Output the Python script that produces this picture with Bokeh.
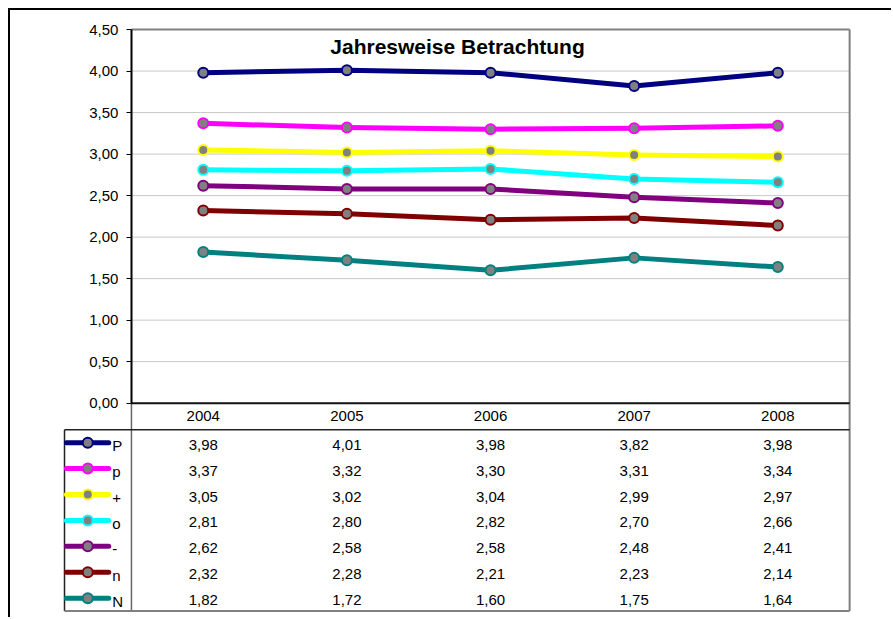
from bokeh.plotting import figure
from bokeh.models import Range1d, LinearAxis, FixedTicker, CustomJSTickFormatter, Label
from bokeh.core.properties import value
from bokeh.embed import file_html
from bokeh.resources import INLINE

# ---------------- data ----------------
years = ["2004", "2005", "2006", "2007", "2008"]
series_names = ["P", "p", "+", "o", "-", "n", "N"]
series_colors = ["#000080", "#FF00FF", "#FFFF00", "#00FFFF", "#800080", "#800000", "#008080"]
vals_P = [3.98, 4.01, 3.98, 3.82, 3.98]
vals_p = [3.37, 3.32, 3.30, 3.31, 3.34]
vals_plus = [3.05, 3.02, 3.04, 2.99, 2.97]
vals_o = [2.81, 2.80, 2.82, 2.70, 2.66]
vals_minus = [2.62, 2.58, 2.58, 2.48, 2.41]
vals_n = [2.32, 2.28, 2.21, 2.23, 2.14]
vals_N = [1.82, 1.72, 1.60, 1.75, 1.64]
series_values = [vals_P, vals_p, vals_plus, vals_o, vals_minus, vals_n, vals_N]
y_ticks = [0.0, 0.5, 1.0, 1.5, 2.0, 2.5, 3.0, 3.5, 4.0, 4.5]
title_text = "Jahresweise Betrachtung"

# ---------------- layout constants ----------------
X_START, X_END = -0.48, 5.02
Y_START, Y_END = -2.557, 4.669
HEADER_H = 0.32
ROW_H = 0.312
TABLE_LEFT = -0.466
LEG_X0, LEG_X1, LEG_MARK, LEG_TEXT = -0.453, -0.158, -0.304, -0.134
FONT = value("Liberation Sans")

ncol = len(years)
xs = [i + 0.5 for i in range(ncol)]
y_max = y_ticks[-1]
table_bottom = -HEADER_H - ROW_H * len(series_names)

p = figure(width=883, height=609, output_backend="svg", toolbar_location=None,
           x_range=Range1d(X_START, X_END), y_range=Range1d(Y_START, Y_END),
           x_axis_type=None, y_axis_type=None,
           min_border_left=52, min_border_right=41, min_border_top=5, min_border_bottom=4)
p.outline_line_color = None
p.background_fill_color = "white"
p.border_fill_color = "white"
p.styles = {"margin-left": "8px", "margin-top": "8px",
            "border-left": "2px solid #000", "border-top": "2px solid #000"}

# y axis at x = 0
yaxis = LinearAxis(fixed_location=0, bounds=(0, y_max),
                   ticker=FixedTicker(ticks=y_ticks),
                   formatter=CustomJSTickFormatter(code="return tick.toFixed(2).replace('.', ',');"))
yaxis.axis_line_color = "black"
yaxis.axis_line_width = 2
yaxis.major_tick_line_color = "black"
yaxis.major_tick_out = 5
yaxis.major_tick_in = 0
yaxis.minor_tick_line_color = None
yaxis.major_label_standoff = 8
yaxis.major_label_text_font = "Liberation Sans"
yaxis.major_label_text_font_size = "15px"
yaxis.major_label_text_color = "black"
p.add_layout(yaxis, "left")

# grid lines
grid_ys = y_ticks[1:-1]
p.segment(x0=[0] * len(grid_ys), y0=grid_ys, x1=[ncol] * len(grid_ys), y1=grid_ys,
          line_color="#C8C8C8", line_width=1)

# plot area frame (top, right)
p.segment(x0=[0], y0=[y_max], x1=[ncol], y1=[y_max], line_color="#808080", line_width=2)
p.segment(x0=[ncol], y0=[y_max], x1=[ncol], y1=[table_bottom], line_color="#808080", line_width=2)

# table lines
p.segment(x0=[0], y0=[0], x1=[0], y1=[table_bottom], line_color="#666666", line_width=1.5)
p.segment(x0=[TABLE_LEFT], y0=[-HEADER_H], x1=[ncol], y1=[-HEADER_H], line_color="#222222", line_width=1.5)
p.segment(x0=[TABLE_LEFT], y0=[-HEADER_H], x1=[TABLE_LEFT], y1=[table_bottom], line_color="#222222", line_width=1.5)
p.segment(x0=[TABLE_LEFT], y0=[table_bottom], x1=[ncol], y1=[table_bottom], line_color="#808080", line_width=2)
# category axis line
p.segment(x0=[0], y0=[0], x1=[ncol], y1=[0], line_color="#111111", line_width=2)

# series
for name, color, vals in zip(series_names, series_colors, series_values):
    p.line(xs, vals, line_color=color, line_width=5, line_join="round")
    p.scatter(xs, vals, size=10, fill_color="#808080", line_color=color, line_width=2)

# header row
p.text(x=xs, y=[-HEADER_H / 2] * ncol, text=years, text_align="center", text_baseline="middle",
       text_font=FONT, text_font_size="15px", text_color="black")

# data rows
cx, cy, ct = [], [], []
lx0, lx1, ly, lc, mx, tx, tt = [], [], [], [], [], [], []
for k, (name, color, vals) in enumerate(zip(series_names, series_colors, series_values)):
    rc = -HEADER_H - (k + 0.5) * ROW_H
    for i, v in enumerate(vals):
        cx.append(xs[i]); cy.append(rc); ct.append(f"{v:.2f}".replace(".", ","))
    lx0.append(LEG_X0); lx1.append(LEG_X1); ly.append(rc); lc.append(color)
    mx.append(LEG_MARK); tx.append(LEG_TEXT); tt.append(name)

p.text(x=cx, y=cy, text=ct, text_align="center", text_baseline="middle", y_offset=2,
       text_font=FONT, text_font_size="15px", text_color="black")
p.segment(x0=lx0, y0=ly, x1=lx1, y1=ly, line_color=lc, line_width=5, line_cap="round")
p.scatter(x=mx, y=ly, size=10, fill_color="#808080", line_color=lc, line_width=2)
p.text(x=tx, y=ly, text=tt, text_align="left", text_baseline="middle", y_offset=3,
       text_font=FONT, text_font_size="15px", text_color="black")

# title
p.add_layout(Label(x=2.27, y=4.29, text=title_text, text_align="center", text_baseline="alphabetic",
                   text_font="Liberation Sans", text_font_style="bold", text_font_size="21px",
                   text_color="black"))

open("out.html", "w").write(file_html(p, INLINE))
